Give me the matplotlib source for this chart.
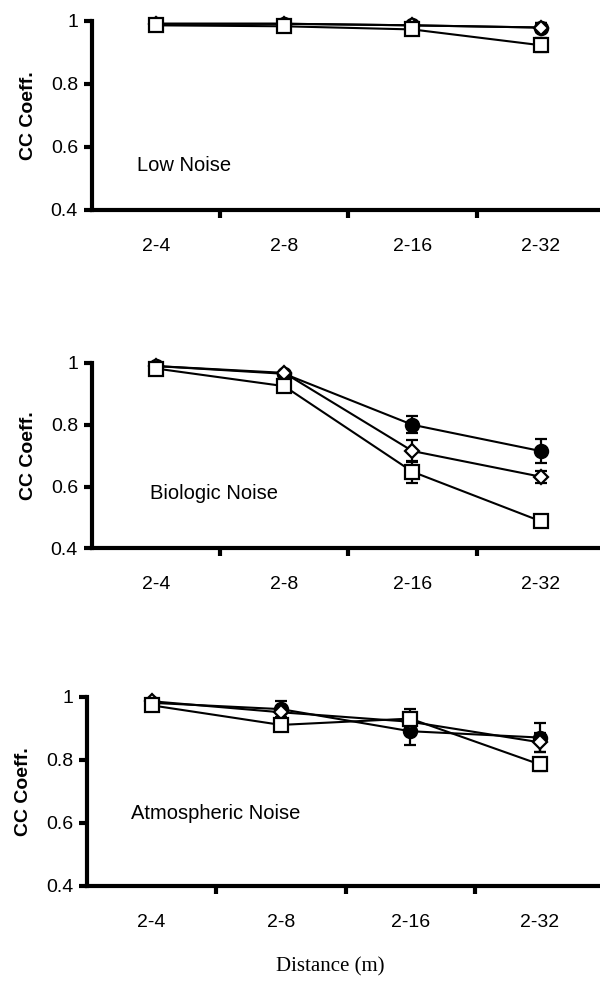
import matplotlib.pyplot as plt

plt.rcParams['font.family'] = ['Liberation Sans', 'DejaVu Sans']

distances = ['2-4', '2-8', '2-16', '2-32']
panel_names = ['Low Noise', 'Biologic Noise', 'Atmospheric Noise']

# mean CC coefficients per panel (circle, diamond, square series)
circle_vals = [
    [0.99, 0.99, 0.985, 0.978],
    [0.99, 0.965, 0.80, 0.715],
    [0.98, 0.96, 0.89, 0.87],
]
circle_err = [
    [0.0, 0.0, 0.0, 0.015],
    [0.0, 0.0, 0.028, 0.04],
    [0.0, 0.025, 0.045, 0.045],
]
diamond_vals = [
    [0.99, 0.99, 0.985, 0.978],
    [0.99, 0.968, 0.715, 0.632],
    [0.985, 0.95, 0.92, 0.855],
]
diamond_err = [
    [0.0, 0.0, 0.0, 0.015],
    [0.0, 0.0, 0.035, 0.02],
    [0.0, 0.0, 0.0, 0.03],
]
square_vals = [
    [0.985, 0.982, 0.972, 0.922],
    [0.982, 0.925, 0.648, 0.488],
    [0.972, 0.91, 0.93, 0.785],
]
square_err = [
    [0.0, 0.0, 0.0, 0.022],
    [0.0, 0.0, 0.035, 0.015],
    [0.0, 0.02, 0.03, 0.02],
]
label_pos = [(0.85, 0.54), (0.95, 0.578), (0.84, 0.63)]

fig = plt.figure(figsize=(6, 9.81), dpi=100)
boxes = [
    [0.153, 0.786, 0.855, 0.193],
    [0.153, 0.441, 0.855, 0.189],
    [0.145, 0.097, 0.862, 0.193],
]

x = list(range(1, len(distances) + 1))
for i, box in enumerate(boxes):
    ax = fig.add_axes(box)
    series = [
        (circle_vals[i], circle_err[i], 'o', 'black', 9.5),
        (diamond_vals[i], diamond_err[i], 'D', 'white', 7),
        (square_vals[i], square_err[i], 's', 'white', 10),
    ]
    for vals, err, m, fc, ms in series:
        eb = ax.errorbar(x, vals, yerr=err, color='black', lw=1.5, marker=m,
                         markersize=ms, markerfacecolor=fc, markeredgecolor='black',
                         markeredgewidth=1.6, capsize=4.5, capthick=2, elinewidth=1.6)
        for artist in [eb.lines[0]] + list(eb.lines[1]) + list(eb.lines[2]):
            artist.set_clip_on(False)

    ax.set_xlim(0.5, 4.5)
    ax.set_ylim(0.4, 1.0)
    ax.set_yticks([0.4, 0.6, 0.8, 1.0])
    ax.set_yticklabels(['0.4', '0.6', '0.8', '1'])
    ax.set_xticks([1.5, 2.5, 3.5], minor=False)
    ax.set_xticklabels([])
    ax.set_xticks(x, minor=True)
    ax.set_xticklabels(distances, minor=True)
    ax.tick_params(axis='x', which='minor', length=0, pad=20, labelsize=14)
    ax.tick_params(axis='x', which='major', length=6, width=3, direction='out')
    ax.tick_params(axis='y', length=6, width=3, direction='out', labelsize=14, pad=4)
    for side in ['top', 'right']:
        ax.spines[side].set_visible(False)
    for side in ['left', 'bottom']:
        ax.spines[side].set_linewidth(3)
    ax.set_ylabel('CC Coeff.', fontsize=14, fontweight='bold', labelpad=10)
    ax.text(label_pos[i][0], label_pos[i][1], panel_names[i], fontsize=14.5,
            va='center', ha='left')

fig.text(0.55, 0.014, 'Distance (m)', fontsize=15, ha='center', va='center',
         family=['Liberation Serif', 'DejaVu Serif'])

fig.savefig('out.png', dpi=100)
